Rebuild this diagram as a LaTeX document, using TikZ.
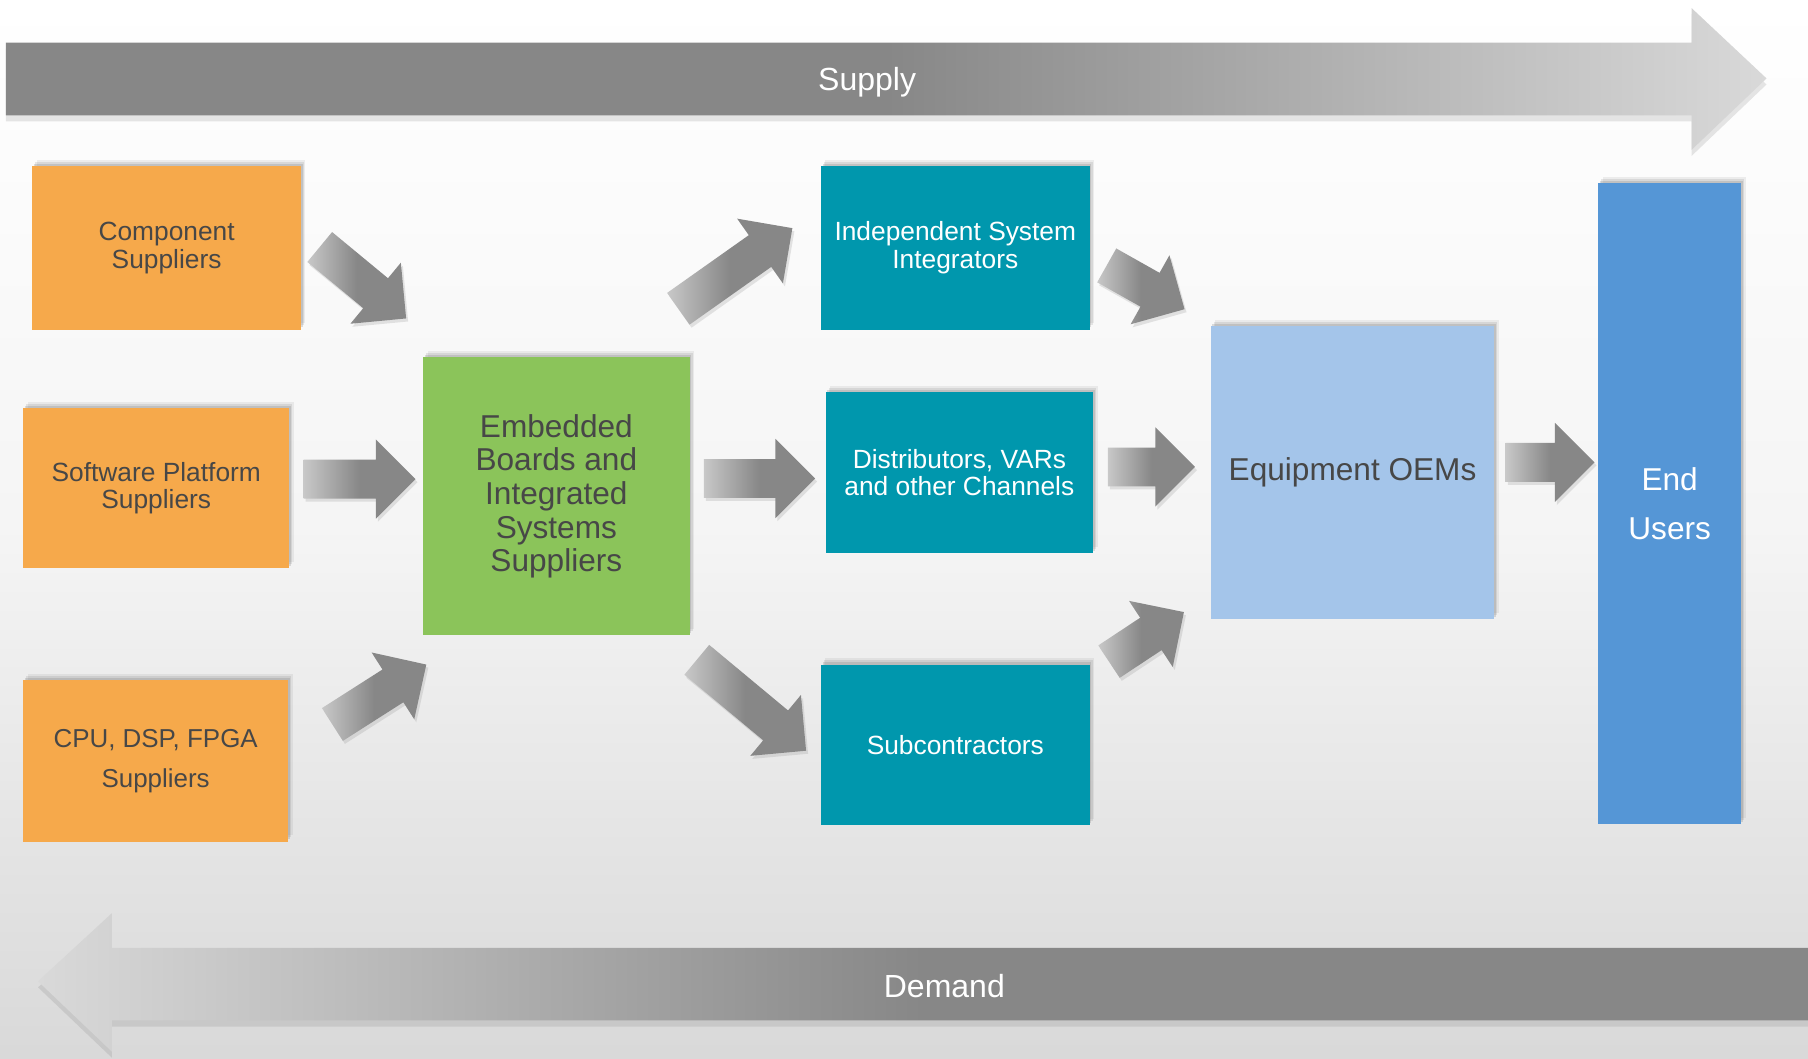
\documentclass[tikz,border=0pt]{standalone}
\usepackage{fontspec}
\setmainfont{Liberation Sans}
\usetikzlibrary{shapes.arrows,shadows,calc}

\definecolor{orangebox}{HTML}{F6A94B}
\definecolor{greenbox}{HTML}{8BC45A}
\definecolor{tealbox}{HTML}{0097AD}
\definecolor{oembox}{HTML}{A4C5EA}
\definecolor{endbox}{HTML}{5596D6}
\definecolor{darktext}{HTML}{474747}
\definecolor{arrowgray}{HTML}{878787}
\definecolor{arrowlight}{HTML}{C8C8C8}
\definecolor{bandlight}{HTML}{D9D9D9}

\tikzset{
  box/.style={inner sep=0pt, align=center,
    drop shadow={shadow xshift=2.2pt, shadow yshift=3.2pt, opacity=.12},
    drop shadow={shadow xshift=1.5pt, shadow yshift=2.2pt, opacity=.18},
    drop shadow={shadow xshift=0.8pt, shadow yshift=1.2pt, opacity=.25}},
  smalltxt/.style={font=\fontsize{13}{13.6}\selectfont},
  bigtxt/.style={font=\fontsize{15.6}{16.6}\selectfont},
  fatarrow/.style={single arrow, inner xsep=0pt, inner ysep=.33cm,
    single arrow head extend=.35cm, single arrow tip angle=90,
    left color=arrowlight, right color=arrowgray, middle color=arrowgray,
    drop shadow={shadow xshift=1pt, shadow yshift=-1.5pt, opacity=.2}}
}

\begin{document}
\begin{tikzpicture}[x=0.02cm, y=-0.02cm]
  \useasboundingbox (0,0) rectangle (1568,918);
  % backdrop
  \shade[top color=white, bottom color=gray!30, middle color=gray!8] (0,0) rectangle (1568,918);

  % supply and demand bands
  \shade[left color=arrowgray, right color=bandlight, middle color=arrowgray,
    drop shadow={shadow xshift=0pt, shadow yshift=-3pt, opacity=.2}]
    (5,37) -- (1467,37) -- (1467,7) -- (1532,68) -- (1467,130) -- (1467,100) -- (5,100) -- cycle;
  \node[text=white, font=\fontsize{15.8}{17}\selectfont] (supply) at (752,71) {Supply};
  \shade[left color=bandlight, right color=arrowgray, middle color=arrowgray,
    drop shadow={shadow xshift=0pt, shadow yshift=-3pt, opacity=.2}]
    (1568,822) -- (97,822) -- (97,792) -- (33,851) -- (97,912) -- (97,885) -- (1568,885) -- cycle;
  \node[text=white, font=\fontsize{15.8}{17}\selectfont] (demand) at (819,855) {Demand};

  % suppliers
  \node[box, smalltxt, fill=orangebox, text=darktext, minimum width=4.66cm, minimum height=2.84cm]
    (comp) at (144.5,215) {Component\\Suppliers};
  \node[box, smalltxt, fill=orangebox, text=darktext, minimum width=4.62cm, minimum height=2.78cm]
    (soft) at (135.5,423.5) {Software Platform\\Suppliers};
  \node[box, font=\fontsize{12.8}{20}\selectfont, fill=orangebox, text=darktext,
    minimum width=4.60cm, minimum height=2.80cm]
    (cpu) at (135,660) {CPU, DSP, FPGA\\Suppliers};
  \node[box, bigtxt, fill=greenbox, text=darktext, minimum width=4.62cm, minimum height=4.82cm]
    (emb) at (482.5,430.5) {Embedded\\Boards and\\Integrated\\Systems\\Suppliers};

  % channels
  \node[box, smalltxt, fill=tealbox, text=white, minimum width=4.66cm, minimum height=2.84cm]
    (isi) at (828.5,215) {Independent System\\Integrators};
  \node[box, smalltxt, fill=tealbox, text=white, minimum width=4.64cm, minimum height=2.80cm]
    (dist) at (832,410) {Distributors, VARs\\and other Channels};
  \node[box, smalltxt, fill=tealbox, text=white, minimum width=4.66cm, minimum height=2.78cm]
    (sub) at (828.5,646) {Subcontractors};

  \node[box, bigtxt, fill=oembox, text=darktext, minimum width=4.92cm, minimum height=5.08cm]
    (oem) at (1173,410) {Equipment OEMs};
  \node[box, font=\fontsize{15.6}{24}\selectfont, fill=endbox, text=white,
    minimum width=2.48cm, minimum height=11.12cm]
    (end) at (1448,437) {End\\Users};

  % ends of the block arrows
  \coordinate (comp-o) at (277,214);   \coordinate (emb-i1) at (352,276);
  \coordinate (soft-o) at (263,415.5); \coordinate (emb-i2) at (360,415.5);
  \coordinate (cpu-o)  at (288,628.5); \coordinate (emb-i3) at (369.5,576.5);
  \coordinate (emb-o1) at (588,268);   \coordinate (isi-i)  at (687,198);
  \coordinate (emb-o2) at (610,415);   \coordinate (dist-i) at (706.5,415);
  \coordinate (emb-o3) at (604,572);   \coordinate (sub-i)  at (699,651);
  \coordinate (isi-o)  at (959.5,230); \coordinate (oem-i1) at (1027,268);
  \coordinate (dist-o) at (960.5,405); \coordinate (oem-i2) at (1036,405);
  \coordinate (sub-o)  at (961.5,574); \coordinate (oem-i3) at (1026.5,531);
  \coordinate (oem-o)  at (1305.5,401);\coordinate (end-i)  at (1382.5,401);

  \foreach \s/\t [count=\k] in {comp-o/emb-i1, soft-o/emb-i2, cpu-o/emb-i3,
      emb-o1/isi-i, emb-o2/dist-i, emb-o3/sub-i,
      isi-o/oem-i1, dist-o/oem-i2, sub-o/oem-i3, oem-o/end-i}{%
    \path let \p1=($(\t)-(\s)$), \n1={veclen(\x1,\y1)} in
      (\s) -- node[fatarrow, sloped, pos=0, anchor=tail, minimum height=\n1] (arr\k) {} (\t);
  }
\end{tikzpicture}
\end{document}
